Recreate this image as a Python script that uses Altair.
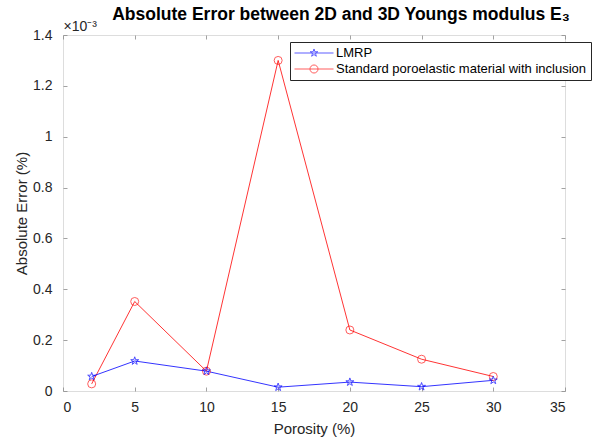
import altair as alt
import pandas as pd

# ---- data (values in units of 1e-3) ----
porosity = [2, 5, 10, 15, 20, 25, 30]
lmrp = [0.057, 0.118, 0.078, 0.015, 0.035, 0.017, 0.042]
standard = [0.028, 0.352, 0.078, 1.300, 0.240, 0.125, 0.057]
series_names = ["LMRP", "Standard poroelastic material with inclusion"]
series_colors = ["#0000FF", "#FF0000"]
x_ticks = [0, 5, 10, 15, 20, 25, 30, 35]
y_ticks = [0, 0.2, 0.4, 0.6, 0.8, 1.0, 1.2, 1.4]

rows = []
for name, vals in zip(series_names, [lmrp, standard]):
    for p, v in zip(porosity, vals):
        rows.append({"porosity": p, "error": v, "series": name})
df = pd.DataFrame(rows)

FONT = "Liberation Sans"
TXT = "#262626"
AX = "#8a8a8a"

STAR = ("M0,-1L0.225,-0.309L0.951,-0.309L0.363,0.118L0.588,0.809L0,0.382"
        "L-0.588,0.809L-0.363,0.118L-0.951,-0.309L-0.225,-0.309Z")
# legend symbols: line with marker in the middle (unit = sqrt(size)/2 = 6.5 px)
L = 3.0   # half line length in units
r = 0.62  # marker radius in units
LEG_STAR = ("M-{L},0H{L}M0,-{a}L{b},-{c}L{d},-{c}L{e},{f}L{g},{h}L0,{i}L-{g},{h}L-{e},{f}L-{d},-{c}L-{b},-{c}Z").format(
    L=L, a=round(1.0 * r, 3), b=round(0.225 * r, 3), c=round(0.309 * r, 3), d=round(0.951 * r, 3),
    e=round(0.363 * r, 3), f=round(0.118 * r, 3), g=round(0.588 * r, 3), h=round(0.809 * r, 3),
    i=round(0.382 * r, 3))
LEG_CIRC = "M-{L},0H{L}M{r},0A{r},{r} 0 1,1 -{r},0A{r},{r} 0 1,1 {r},0Z".format(L=L, r=r)

xs = alt.Scale(domain=[0, 35], nice=False, zero=False)
ys = alt.Scale(domain=[0, 1.4], nice=False)
cs = alt.Scale(domain=series_names, range=series_colors)

base = alt.Chart(df)

tick_common = dict(domain=False, labels=False, ticks=True, tickSize=4, tickColor=AX,
                   tickWidth=0.8, offset=-4, grid=False)

red_line = base.transform_filter(alt.datum.series == series_names[1]).mark_line(
    strokeWidth=0.8, color="#FF0000").encode(
    x=alt.X("porosity:Q", scale=xs,
            axis=alt.Axis(values=x_ticks, title="Porosity (%)", ticks=False, domain=False,
                          labelPadding=9, labelFontSize=14, labelColor=TXT, labelFont=FONT,
                          titleFont=FONT, titleFontSize=15, titleFontWeight="normal",
                          titleColor=TXT, titlePadding=7, grid=False)),
    y=alt.Y("error:Q", scale=ys,
            axis=alt.Axis(values=y_ticks, format=".1~f", title="Absolute Error (%)",
                          ticks=False, domain=False, labelPadding=11, labelFontSize=14,
                          labelColor=TXT, labelFont=FONT, titleFont=FONT, titleFontSize=15,
                          titleFontWeight="normal", titleColor=TXT, titlePadding=3, grid=False)),
)

blue_line = base.transform_filter(alt.datum.series == series_names[0]).mark_line(
    strokeWidth=0.8, color="#0000FF").encode(
    x=alt.X("porosity:Q", scale=xs, axis=None),
    y=alt.Y("error:Q", scale=ys, axis=None),
)

circles = base.transform_filter(alt.datum.series == series_names[1]).mark_point(
    shape="circle", size=64, color="#FF0000", strokeWidth=0.9, filled=False).encode(
    x=alt.X("porosity:Q", scale=xs, axis=alt.Axis(values=x_ticks, orient="top", title=None, **tick_common)),
    y=alt.Y("error:Q", scale=ys, axis=alt.Axis(values=y_ticks, orient="right", title=None, **tick_common)),
)

stars = base.transform_filter(alt.datum.series == series_names[0]).mark_point(
    shape=STAR, size=70, color="#0000FF", strokeWidth=1, filled=False).encode(
    x=alt.X("porosity:Q", scale=xs, axis=alt.Axis(values=x_ticks, orient="bottom", title=None, **tick_common)),
    y=alt.Y("error:Q", scale=ys, axis=alt.Axis(values=y_ticks, orient="left", title="×10⁻³",
                                                 titleAngle=0, titleX=-4, titleY=-5, titleAlign="left",
                                                 titleBaseline="alphabetic", titleFont=FONT,
                                                 titleFontSize=14, titleFontWeight="normal",
                                                 titleColor=TXT, **tick_common)),
)

leg = alt.Legend(title=None, orient="none", legendX=227, legendY=7,
                 padding=4, strokeColor="#262626", fillColor="white",
                 labelFont=FONT, labelFontSize=13, labelColor="black", labelLimit=500,
                 symbolSize=169, symbolStrokeWidth=0.9, symbolOffset=13, labelOffset=15,
                 rowPadding=2)

legend_layer = base.transform_filter("false").mark_point(filled=False).encode(
    x=alt.X("porosity:Q", scale=xs, axis=None),
    y=alt.Y("error:Q", scale=ys, axis=None),
    color=alt.Color("series:N", scale=cs, legend=leg),
    shape=alt.Shape("series:N", scale=alt.Scale(domain=series_names, range=[LEG_STAR, LEG_CIRC]), legend=leg),
)

chart = alt.layer(red_line, blue_line, circles, stars, legend_layer).resolve_axis(
    x="independent", y="independent").properties(
    width=502, height=356,
    padding={"left": 63, "top": 35, "right": 29, "bottom": 52},
    autosize=alt.AutoSizeParams(type="none"),
    title=alt.TitleParams("Absolute Error between 2D and 3D Youngs modulus E₃", font=FONT,
                          fontSize=17.5, fontWeight="bold", color="black", anchor="middle",
                          frame="group", offset=8, dx=27, dy=12),
).configure_view(stroke=AX, strokeWidth=1).configure(background="white")

chart.save("out.html", embed_options={"renderer": "svg", "actions": False})
